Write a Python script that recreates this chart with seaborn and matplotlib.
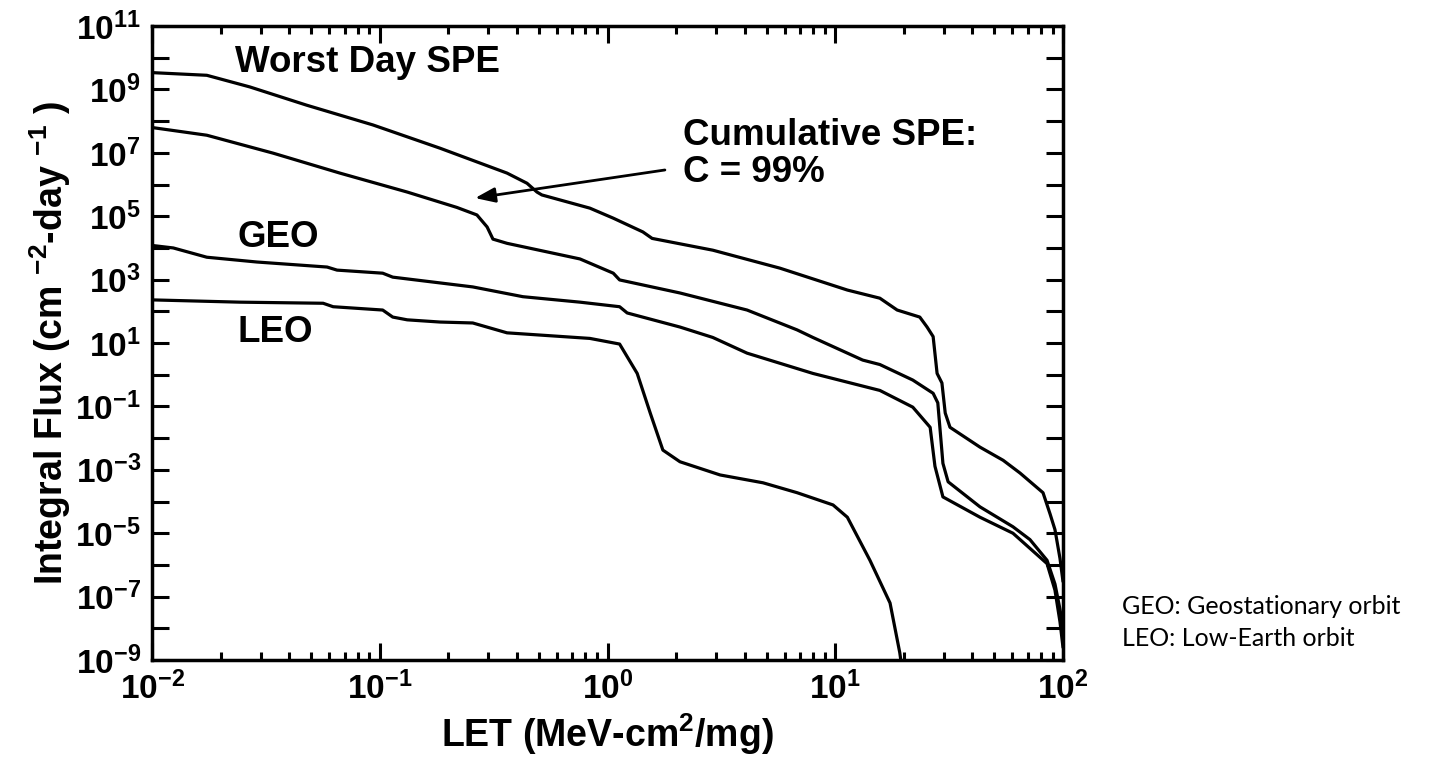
import numpy as np
import pandas as pd
import matplotlib
matplotlib.use('Agg')
import matplotlib.pyplot as plt
import matplotlib.ticker as mticker
from matplotlib import font_manager
import seaborn as sns

# LET (MeV-cm2/mg) and integral flux (cm-2 day-1)
worst_let = [0.01, 0.0174, 0.0269, 0.0477, 0.0933, 0.184, 0.362, 0.443, 0.49, 0.515,
             0.837, 1.06, 1.43, 1.57, 2.9, 5.72, 11.3, 15.7, 18.7, 23.5, 25.3, 26.9,
             28.0, 29.4, 30.4, 31.9, 43.2, 54.6, 64.8, 81.7, 87.8, 92.2, 97.0, 100.0]
worst_flux = [3.4e9, 2.8e9, 1.2e9, 3.2e8, 7.6e7, 1.4e7, 2.3e6, 1.1e6, 5.8e5, 4.7e5,
              1.8e5, 8.7e4, 3.2e4, 2.0e4, 8.5e3, 2.3e3, 470, 260, 110, 66, 32, 16,
              1.1, 0.55, 0.062, 0.022, 5.2e-3, 2.0e-3, 7.9e-4, 1.9e-4, 4.0e-5, 1.3e-5,
              1.6e-6, 3.0e-7]

cum_let = [0.01, 0.0174, 0.034, 0.0668, 0.132, 0.218, 0.267, 0.296, 0.314, 0.362,
           0.757, 1.06, 1.13, 2.08, 4.1, 6.8, 7.98, 13.2, 15.7, 21.9, 26.9, 28.2,
           29.7, 31.3, 43.2, 60.3, 71.6, 85.1, 92.2, 97.0, 100.0]
cum_flux = [6.3e7, 3.6e7, 9.8e6, 2.3e6, 5.8e5, 1.9e5, 1.1e5, 4.6e4, 1.9e4, 1.4e4,
            4.5e3, 1.6e3, 980, 380, 110, 26, 15, 2.9, 2.1, 0.68, 0.26, 0.13,
            1.6e-3, 4.2e-4, 6.8e-5, 1.6e-5, 6.3e-6, 1.4e-6, 2.5e-7, 4.0e-8, 1.0e-8]

geo_let = [0.01, 0.0124, 0.0174, 0.0289, 0.0587, 0.0649, 0.103, 0.114, 0.256, 0.425,
           0.757, 1.13, 1.22, 2.08, 2.9, 4.1, 7.98, 15.7, 21.9, 26.1, 27.4, 29.7,
           43.2, 60.3, 85.1, 92.2, 97.0, 100.0]
geo_flux = [1.2e4, 1.0e4, 5.1e3, 3.6e3, 2.5e3, 2.0e3, 1.6e3, 1.2e3, 590, 290,
            195, 140, 89, 32, 15, 4.8, 1.1, 0.32, 0.095, 0.022, 1.3e-3, 1.4e-4,
            3.2e-5, 1.0e-5, 1.1e-6, 1.6e-7, 1.6e-8, 2.5e-9]

leo_let = [0.01, 0.0243, 0.0564, 0.0624, 0.103, 0.114, 0.132, 0.184, 0.256, 0.362,
           0.837, 1.13, 1.35, 1.54, 1.75, 2.08, 3.12, 4.82, 6.8, 9.78, 11.3, 14.2,
           17.4, 19.2, 19.6]
leo_flux = [230, 195, 180, 140, 110, 66, 54, 46, 43, 21,
            14, 9.3, 1.1, 0.062, 4.2e-3, 1.8e-3, 6.9e-4, 3.9e-4, 1.9e-4, 7.8e-5, 3.2e-5, 1.4e-6,
            6.3e-8, 1.7e-9, 6e-10]

curve_names = ['Worst Day SPE', 'Cumulative SPE', 'GEO', 'LEO']

x_tick_exps = [-2, -1, 0, 1, 2]
y_tick_exps = list(range(-9, 12))

df = pd.concat([
    pd.DataFrame({'let': worst_let, 'flux': worst_flux, 'curve': curve_names[0]}),
    pd.DataFrame({'let': cum_let, 'flux': cum_flux, 'curve': curve_names[1]}),
    pd.DataFrame({'let': geo_let, 'flux': geo_flux, 'curve': curve_names[2]}),
    pd.DataFrame({'let': leo_let, 'flux': leo_flux, 'curve': curve_names[3]}),
], ignore_index=True)

sns.set_theme(style='ticks')
plt.rcParams['font.family'] = ['Liberation Sans', 'DejaVu Sans']
plt.rcParams['text.color'] = 'black'
plt.rcParams['axes.labelcolor'] = 'black'
plt.rcParams['xtick.color'] = 'black'
plt.rcParams['ytick.color'] = 'black'
plt.rcParams['mathtext.fontset'] = 'custom'
plt.rcParams['mathtext.rm'] = 'Liberation Sans:bold'
plt.rcParams['mathtext.bf'] = 'Liberation Sans:bold'
plt.rcParams['mathtext.it'] = 'Liberation Sans:bold'
plt.rcParams['mathtext.default'] = 'bf'

# axis titles in the original are set in a narrow bold face
installed = {f.name for f in font_manager.fontManager.ttflist}
if 'Liberation Sans Narrow' in installed:
    label_family, label_size = 'Liberation Sans Narrow', 31
else:
    label_family, label_size = 'Liberation Sans', 27

fig = plt.figure(figsize=(14.33, 7.69), dpi=100)
ax = fig.add_axes([0.1061, 0.1417, 0.6357, 0.8244])
ax.set_xscale('log')
ax.set_yscale('log')

sns.lineplot(data=df, x='let', y='flux', hue='curve', palette=['black'] * 4,
             estimator=None, sort=False, legend=False, linewidth=2.3, ax=ax)

ax.set_xlim(1e-2, 1e2)
ax.set_ylim(1e-9, 1e11)

ax.xaxis.set_major_locator(mticker.FixedLocator([10.0 ** e for e in x_tick_exps]))
ax.xaxis.set_major_formatter(mticker.FixedFormatter(
    [r'$\mathbf{10^{%d}}$' % e for e in x_tick_exps]))
ax.xaxis.set_minor_locator(mticker.LogLocator(base=10, subs=np.arange(2, 10), numticks=20))
ax.xaxis.set_minor_formatter(mticker.NullFormatter())

ax.yaxis.set_major_locator(mticker.FixedLocator([10.0 ** e for e in y_tick_exps]))
ax.yaxis.set_major_formatter(mticker.FixedFormatter(
    [r'$\mathbf{10^{%d}}$' % e if e % 2 else '' for e in y_tick_exps]))
ax.yaxis.set_minor_locator(mticker.NullLocator())

ax.tick_params(which='both', direction='in', top=True, right=True, width=2.2,
               colors='black', labelsize=24)
ax.tick_params(which='major', length=12, pad=8)
ax.tick_params(which='minor', length=6)
for sp in ax.spines.values():
    sp.set_linewidth(2.5)
    sp.set_color('black')

ax.set_xlabel(r'LET (MeV-cm$^{2}$/mg)', fontsize=label_size, fontweight='bold',
              family=label_family, labelpad=4)
ax.set_ylabel(r'Integral Flux (cm $^{-2}$-day $^{-1}$ )', fontsize=label_size,
              fontweight='bold', family=label_family, labelpad=2)

txt = dict(transform=ax.transAxes, fontsize=26.5, fontweight='bold',
           va='baseline', ha='left', color='black')
ax.text(0.091, 0.927, 'Worst Day SPE', **txt)
ax.text(0.094, 0.651, 'GEO', **txt)
ax.text(0.094, 0.502, 'LEO', **txt)
ax.text(0.583, 0.812, 'Cumulative SPE:', **txt)
ax.text(0.583, 0.754, 'C = 99%', **txt)
ax.annotate('', xy=(0.3546, 0.7287), xytext=(0.563, 0.773),
            xycoords='axes fraction', textcoords='axes fraction',
            arrowprops=dict(arrowstyle='-|>,head_length=1.2,head_width=0.45',
                            mutation_scale=10, lw=2, color='black',
                            shrinkA=0, shrinkB=0))

note = dict(fontsize=18, family=['Lato', 'DejaVu Sans'], va='baseline', ha='left',
            color='black')
fig.text(0.783, 0.202, 'GEO: Geostationary orbit', **note)
fig.text(0.783, 0.160, 'LEO: Low-Earth orbit', **note)

fig.savefig('out.png', dpi=100, facecolor='white')
